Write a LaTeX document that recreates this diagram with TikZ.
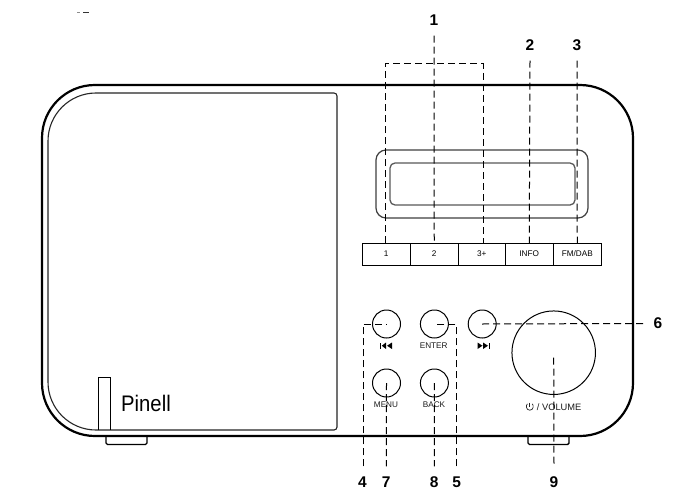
\documentclass[tikz,border=0pt]{standalone}
\usepackage{fontspec}
\setmainfont{Liberation Sans}
\tikzset{
  callout/.style={font=\fontsize{15.5}{17}\selectfont\bfseries, inner sep=10pt, text=black},
  leader/.style={line width=1pt, black, dash pattern=on 7pt off 4pt},
  keybox/.style={draw=black, line width=1pt, minimum height=22pt, inner sep=0pt, outer sep=0pt, font=\fontsize{8.2}{9}\selectfont, text=black},
  knob/.style={draw=black, line width=1pt, circle, inner sep=0pt, outer sep=0pt, minimum size=28pt},
  caption/.style={font=\fontsize{8.2}{9}\selectfont, inner sep=0pt, text=black!90},
  icon/.style={fill=black, draw=none}
}
\begin{document}
\begin{tikzpicture}[x=1pt,y=-1pt]
\useasboundingbox (0,0) rectangle (695,500);
% stray mark
\draw[black!45, line width=0.5pt] (77,12.7) -- (80,12.7);
\draw[black!80, line width=0.7pt] (83,12.4) -- (89,12.4);
% feet
\draw[line width=1.4pt, rounded corners=1.5pt] (106,436) -- (106,444.5) -- (147,444.5) -- (147,436);
\draw[line width=1.4pt, rounded corners=1.5pt] (528,436) -- (528,444.5) -- (569,444.5) -- (569,436);
% body
\draw[line width=2.2pt, fill=white, rounded corners=53pt] (42,85) rectangle (633,436);
% left panel
\draw[line width=1.1pt, black!85]
  (96,93) -- (334,93) .. controls (335.7,93) and (337,94.3) .. (337,96)
  -- (337,427) .. controls (337,428.7) and (335.7,430) .. (334,430)
  -- (96,430) .. controls (69.5,430) and (48,408.5) .. (48,382)
  -- (48,141) .. controls (48,114.5) and (69.5,93) .. (96,93) -- cycle;
% badge
\draw[line width=0.9pt] (98,430) -- (98,377) -- (110,377) -- (110,430);
\node[inner sep=0pt, text=black] (brand) at (146,403) {\scalebox{0.9}[1]{\fontsize{22.5}{25}\selectfont Pinell}};
% display
\draw[line width=1.2pt, black!75, rounded corners=10pt] (376,150) rectangle (588,218);
\draw[line width=1.3pt, black!65, rounded corners=5pt] (390,163) rectangle (575,205);
% preset keys
\node[keybox, minimum width=48.5pt] (b1) at (386.25,254) {1};
\node[keybox, minimum width=47.5pt] (b2) at (434.25,254) {2};
\node[keybox, minimum width=47.5pt] (b3) at (481.75,254) {3+};
\node[keybox, minimum width=47.5pt] (b4) at (529.25,254) {INFO};
\node[keybox, minimum width=48.5pt] (b5) at (577.25,254) {FM/DAB};
% round keys
\node[knob] (prev) at (386.5,324) {};
\node[knob] (enter) at (434.4,324) {};
\node[knob] (next) at (482.2,324) {};
\node[knob] (menu) at (386.5,383) {};
\node[knob] (back) at (434.4,383) {};
\node[knob, minimum size=83.5pt] (vol) at (553.7,352.7) {};
% captions
\node[caption] (tenter) at (433.7,346) {ENTER};
\node[caption] (tmenu) at (386,405) {MENU};
\node[caption] (tback) at (434,405) {BACK};
\node[caption, anchor=west, font=\fontsize{9.3}{10}\selectfont] (tvol) at (536.7,406.7) {/ VOLUME};
% previous icon
\fill[icon] (380,342.5) rectangle (381.3,349);
\fill[icon] (386,342.5) -- (386,349) -- (381.8,345.75) -- cycle;
\fill[icon] (392,342.5) -- (392,349) -- (387,345.75) -- cycle;
% next icon
\fill[icon] (477.5,342.5) -- (477.5,349) -- (482.5,345.75) -- cycle;
\fill[icon] (483,342.5) -- (483,349) -- (488,345.75) -- cycle;
\fill[icon] (488.6,342.5) rectangle (490,349);
% power icon
\draw[line width=0.7pt, black!85] (527.4,403.9) .. controls (525.6,405) and (526,410.2) .. (529.8,410.2) .. controls (533.6,410.2) and (534,405) .. (532.2,403.9);
\draw[line width=0.7pt, black!85] (529.8,402.5) -- (529.8,406.5);
% callout numbers
\node[callout] (l1) at (434,20) {1};
\node[callout] (l2) at (530,45) {2};
\node[callout] (l3) at (577,45) {3};
\node[callout] (l6) at (658,323.5) {6};
\node[callout] (l4) at (362.5,482) {4};
\node[callout] (l7) at (386.3,482) {7};
\node[callout] (l8) at (434.3,482) {8};
\node[callout] (l5) at (456.7,482) {5};
\node[callout] (l9) at (554,482) {9};
% leaders
\coordinate (tl) at (385.3,64);
\coordinate (tr) at (483.3,64);
\draw[leader] (l1.south) -- (b2.north);
\draw[leader] (tl |- b1.north) -- (tl) -- (tr) -- (tr |- b3.north);
\draw[leader] (l2.south) -- (b4.north);
\draw[leader] (l3.south) -- (b5.north);
\draw[leader] (l4.north -| 363.3,0) |- (prev.center);
\draw[leader] (l5.north -| 456,0) |- (enter.center);
\draw[leader] (next.center) -- (l6.west);
\draw[leader] (menu.center) -- (l7.north);
\draw[leader] (back.center) -- (l8.north);
\draw[leader, shorten <=5pt] (vol.center) -- (l9.north);
\end{tikzpicture}
\end{document}
